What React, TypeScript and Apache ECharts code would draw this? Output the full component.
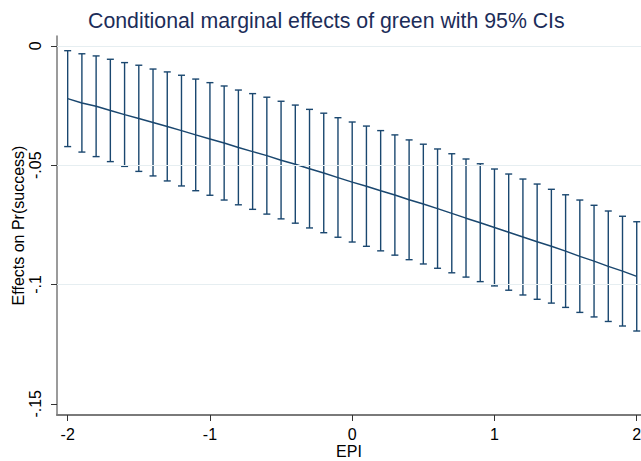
import React, { useEffect, useRef } from "react";
import * as echarts from "echarts";

const titleText = "Conditional marginal effects of green with 95% CIs";
const xName = "EPI";
const yName = "Effects on Pr(success)";

const epiValues = [
  -2, -1.9, -1.8, -1.7, -1.6, -1.5, -1.4, -1.3, -1.2, -1.1,
  -1, -0.9, -0.8, -0.7, -0.6, -0.5, -0.4, -0.3, -0.2, -0.1,
  0, 0.1, 0.2, 0.3, 0.4, 0.5, 0.6, 0.7, 0.8, 0.9,
  1, 1.1, 1.2, 1.3, 1.4, 1.5, 1.6, 1.7, 1.8, 1.9, 2,
];

const effect = [
  -0.0221, -0.0239, -0.0253, -0.0271, -0.0288, -0.0304, -0.0321, -0.0338, -0.0355, -0.0373,
  -0.039, -0.0407, -0.0426, -0.0443, -0.046, -0.0479, -0.0496, -0.0515, -0.0533, -0.0552,
  -0.0571, -0.0588, -0.0607, -0.0625, -0.0645, -0.0663, -0.0682, -0.0702, -0.0722, -0.0741,
  -0.0761, -0.0781, -0.0801, -0.0821, -0.084, -0.086, -0.0882, -0.0902, -0.0924, -0.0944, -0.0966,
];

const ciUpper = [
  -0.002, -0.0033, -0.0042, -0.0056, -0.007, -0.0081, -0.0097, -0.0109, -0.0123, -0.0139,
  -0.0154, -0.0168, -0.0185, -0.02, -0.0215, -0.0232, -0.0248, -0.0266, -0.0282, -0.0301,
  -0.0319, -0.0336, -0.0355, -0.0373, -0.0394, -0.0412, -0.0432, -0.0452, -0.0474, -0.0494,
  -0.0516, -0.0537, -0.0558, -0.0579, -0.0601, -0.0624, -0.0646, -0.0668, -0.0692, -0.0714, -0.0737,
];

const ciLower = [
  -0.0422, -0.0445, -0.0464, -0.0485, -0.0505, -0.0526, -0.0545, -0.0566, -0.0587, -0.0607,
  -0.0626, -0.0646, -0.0666, -0.0685, -0.0705, -0.0725, -0.0743, -0.0763, -0.0783, -0.0802,
  -0.0822, -0.084, -0.0859, -0.0877, -0.0896, -0.0914, -0.0932, -0.0951, -0.0969, -0.0988,
  -0.1006, -0.1024, -0.1044, -0.1062, -0.1078, -0.1096, -0.1117, -0.1136, -0.1155, -0.1174, -0.1195,
];

const xTicks = [-2, -1, 0, 1, 2];
const yTicks = [0, -0.05, -0.1, -0.15];
const yGrid = [0, -0.05, -0.1];

const NAVY = "#1a476f";
const FONT = "Liberation Sans, Arial, sans-serif";

function fmtY(v: number): string {
  if (v === 0) return "0";
  const s = String(Math.abs(v)).replace(/^0/, "");
  return (v < 0 ? "-" : "") + s;
}

export default function App() {
  const ref = useRef<HTMLDivElement>(null);

  useEffect(() => {
    if (!ref.current) return;
    const chart = echarts.init(ref.current, null, { renderer: "svg" });

    const lineData = epiValues.map((x, i) => [x, effect[i]]);
    const ciData = epiValues.map((x, i) => [x, ciLower[i], ciUpper[i]]);

    chart.setOption({
      animation: false,
      backgroundColor: "#ffffff",
      textStyle: { fontFamily: FONT },
      title: {
        text: titleText,
        left: 83,
        top: 5,
        textStyle: {
          fontFamily: FONT,
          fontSize: 21.3,
          fontWeight: "normal",
          color: "#1c2d59",
        },
      },
      grid: {
        left: 57,
        right: 0,
        top: 36,
        bottom: 46,
        containLabel: false,
        outerBoundsMode: "none",
      },
      xAxis: {
        type: "value",
        min: -2.075,
        max: 2.03,
        name: xName,
        nameLocation: "middle",
        nameGap: 28,
        nameMoveOverlap: false,
        nameTextStyle: { fontFamily: FONT, fontSize: 16, color: "#000" },
        axisLine: { show: true, onZero: false, lineStyle: { color: "#7a7a7a", width: 2 } },
        axisTick: {
          show: true,
          length: 6,
          customValues: xTicks,
          lineStyle: { color: "#333", width: 1 },
        },
        axisLabel: {
          show: true,
          customValues: xTicks,
          margin: 11,
          fontFamily: FONT,
          fontSize: 16,
          color: "#000",
          formatter: (v: number) => String(v),
        },
        splitLine: { show: false },
      },
      yAxis: {
        type: "value",
        min: -0.1547,
        max: 0.00415,
        name: yName,
        nameLocation: "middle",
        nameGap: 31,
        nameMoveOverlap: false,
        nameTextStyle: { fontFamily: FONT, fontSize: 16, color: "#000" },
        axisLine: { show: true, onZero: false, lineStyle: { color: "#7a7a7a", width: 1.5 } },
        axisTick: {
          show: true,
          length: 6,
          customValues: yTicks,
          lineStyle: { color: "#333", width: 1 },
        },
        axisLabel: {
          show: true,
          customValues: yTicks,
          rotate: 90,
          margin: 13.5,
          fontFamily: FONT,
          fontSize: 16,
          color: "#000",
          formatter: (v: number) => fmtY(v),
        },
        splitLine: { show: false },
      },
      series: [
        {
          type: "line",
          name: "grid",
          data: [],
          z: 0,
          silent: true,
          markLine: {
            silent: true,
            symbol: ["none", "none"],
            label: { show: false },
            lineStyle: { color: "#e6eef1", width: 1, type: "solid" },
            data: yGrid.map((v) => ({ yAxis: v })),
          },
        },
        {
          type: "custom",
          name: "95% CI",
          z: 2,
          data: ciData,
          encode: { x: 0, y: [1, 2] },
          renderItem: (params: any, api: any) => {
            const x = api.value(0);
            const lo = api.value(1);
            const hi = api.value(2);
            const pHi = api.coord([x, hi]);
            const pLo = api.coord([x, lo]);
            const w = 3.5;
            const style = { stroke: NAVY, lineWidth: 1.4 };
            return {
              type: "group",
              children: [
                { type: "line", shape: { x1: pHi[0], y1: pHi[1], x2: pLo[0], y2: pLo[1] }, style },
                { type: "line", shape: { x1: pHi[0] - w, y1: pHi[1], x2: pHi[0] + w, y2: pHi[1] }, style },
                { type: "line", shape: { x1: pLo[0] - w, y1: pLo[1], x2: pLo[0] + w, y2: pLo[1] }, style },
              ],
            };
          },
        },
        {
          type: "line",
          name: "Effect",
          z: 3,
          data: lineData,
          showSymbol: false,
          symbol: "none",
          lineStyle: { color: NAVY, width: 1.5 },
        },
      ],
    });

    return () => chart.dispose();
  }, []);

  return (
    <div
      ref={ref}
      style={{ position: "fixed", left: 0, top: 0, width: 641, height: 461 }}
    />
  );
}
